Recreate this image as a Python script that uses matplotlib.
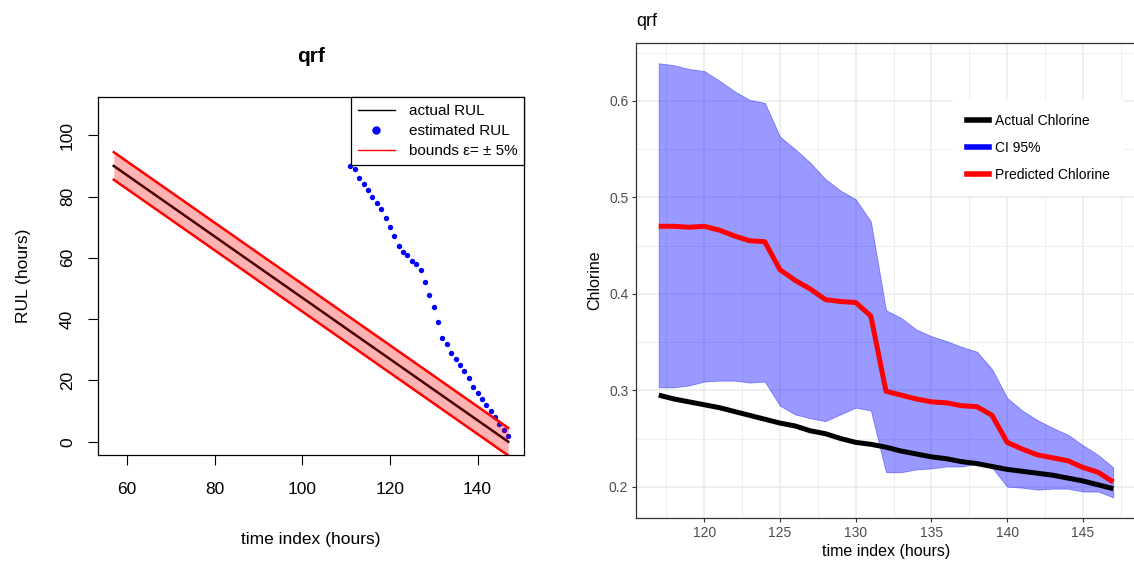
import numpy as np
import matplotlib
matplotlib.use('Agg')
import matplotlib.pyplot as plt
from matplotlib.lines import Line2D

plt.rcParams['font.family'] = ['Liberation Sans', 'DejaVu Sans']

# left panel: remaining useful life
actual_t = [57, 147]
actual_rul = [90, 0]
bound_hi = [94.5, 4.5]
bound_lo = [85.5, -4.5]

est_t = np.arange(111, 148)
est_rul = [90.0, 88.9, 86.1, 84.1, 82.2, 79.8, 77.9, 75.9, 73.0, 70.1,
           67.2, 63.8, 62.0, 60.9, 59.0, 57.9, 56.2, 52.2, 47.9, 44.0,
           39.0, 33.9, 32.0, 29.0, 27.1, 25.1, 23.1, 20.8, 17.8, 15.9,
           13.9, 12.0, 10.1, 8.2, 5.7, 3.8, 1.9]

# right panel: chlorine forecast
hours = np.arange(117, 148)
actual_cl = [0.295, 0.291, 0.288, 0.285, 0.282, 0.278, 0.274, 0.270, 0.266, 0.263,
             0.258, 0.255, 0.250, 0.246, 0.244, 0.241, 0.237, 0.234, 0.231, 0.229,
             0.226, 0.224, 0.221, 0.218, 0.216, 0.214, 0.212, 0.209, 0.206, 0.202, 0.198]
pred_cl = [0.470, 0.470, 0.469, 0.470, 0.466, 0.460, 0.455, 0.454, 0.425, 0.414,
           0.405, 0.394, 0.392, 0.391, 0.377, 0.299, 0.295, 0.291, 0.288, 0.287,
           0.284, 0.283, 0.274, 0.246, 0.239, 0.233, 0.230, 0.227, 0.220, 0.215, 0.205]
ci_high = [0.639, 0.637, 0.633, 0.631, 0.621, 0.610, 0.601, 0.598, 0.563, 0.550,
           0.536, 0.519, 0.507, 0.498, 0.475, 0.383, 0.375, 0.363, 0.356, 0.351,
           0.345, 0.340, 0.322, 0.292, 0.279, 0.269, 0.261, 0.254, 0.243, 0.233, 0.220]
ci_low = [0.303, 0.303, 0.305, 0.309, 0.310, 0.310, 0.308, 0.309, 0.284, 0.275,
          0.271, 0.268, 0.275, 0.282, 0.279, 0.215, 0.215, 0.218, 0.219, 0.221,
          0.221, 0.224, 0.220, 0.200, 0.199, 0.197, 0.198, 0.198, 0.195, 0.195, 0.189]

W, H = 1134, 563
fig = plt.figure(figsize=(W / 100, H / 100), dpi=100)


def px_axes(left, top, right, bottom):
    return fig.add_axes([left / W, 1 - bottom / H, (right - left) / W, (bottom - top) / H])


# ---- left: base-graphics style plot ----
ax1 = px_axes(98, 97, 524, 455)
ax1.scatter(est_t, est_rul, s=15, color='blue', zorder=2, linewidths=0)
ax1.plot(actual_t, actual_rul, color='black', lw=1.8, zorder=2)
ax1.fill_between(actual_t, bound_lo, bound_hi, color='red', alpha=0.3, lw=0, zorder=3)
ax1.plot(actual_t, bound_hi, color='red', lw=1.8, zorder=4)
ax1.plot(actual_t, bound_lo, color='red', lw=1.8, zorder=4)

ax1.set_xlim(53.4, 150.6)
ax1.set_ylim(-4.33, 112.5)
ax1.set_xticks([60, 80, 100, 120, 140])
ax1.set_yticks([0, 20, 40, 60, 80, 100])
ax1.tick_params(axis='x', length=7.5, width=0.8, labelsize=12.5, pad=12)
ax1.tick_params(axis='y', length=7.5, width=0.8, labelsize=12.5, pad=9)
for lab in ax1.get_yticklabels():
    lab.set_rotation(90)
    lab.set_va('center')
for sp in ax1.spines.values():
    sp.set_linewidth(0.9)
ax1.set_xlabel('time index (hours)', fontsize=12.5, labelpad=25)
ax1.set_ylabel('RUL (hours)', fontsize=12.5, labelpad=21)
ax1.set_title('qrf', fontsize=15, fontweight='bold', pad=25)

handles1 = [Line2D([], [], color='black', lw=1),
            Line2D([], [], color='blue', lw=0, marker='o', markersize=5),
            Line2D([], [], color='red', lw=1)]
leg1 = ax1.legend(handles1, ['actual RUL', 'estimated RUL', 'bounds \u03b5= \u00b1 5%'],
                  loc='upper right', borderaxespad=0, fancybox=False,
                  edgecolor='black', framealpha=1, fontsize=11,
                  handlelength=2.4, handletextpad=0.9, labelspacing=0.4,
                  borderpad=0.45)
leg1.get_frame().set_linewidth(0.9)
leg1.set_zorder(10)

# ---- right: ggplot style plot ----
ax2 = px_axes(636, 43, 1136, 518)
ax2.fill_between(hours, ci_low, ci_high, facecolor='blue', alpha=0.4,
                 edgecolor='blue', lw=0.6, zorder=2)
ax2.plot(hours, actual_cl, color='black', lw=3.6, zorder=3, solid_capstyle='butt')
ax2.plot(hours, pred_cl, color='red', lw=3.6, zorder=4, solid_capstyle='butt')

ax2.set_xlim(115.5, 148.5)
ax2.set_ylim(0.1676, 0.660)
ax2.set_xticks([120, 125, 130, 135, 140, 145])
ax2.set_xticks(np.arange(117.5, 149, 5), minor=True)
ax2.set_yticks([0.2, 0.3, 0.4, 0.5, 0.6])
ax2.set_yticks([0.25, 0.35, 0.45, 0.55, 0.65], minor=True)
ax2.set_yticklabels(['0.2', '0.3', '0.4', '0.5', '0.6'])
ax2.grid(which='major', color='#EBEBEB', lw=1.1, zorder=0)
ax2.grid(which='minor', color='#EBEBEB', lw=0.6, zorder=0)
ax2.set_axisbelow(True)
ax2.tick_params(axis='both', which='major', length=3, width=0.8, color='#333333',
                labelsize=10, labelcolor='#4D4D4D', pad=2.5)
ax2.tick_params(axis='both', which='minor', length=0)
for sp in ax2.spines.values():
    sp.set_color('#333333')
    sp.set_linewidth(0.9)
ax2.set_xlabel('time index (hours)', fontsize=11.5, labelpad=3)
ax2.set_ylabel('Chlorine', fontsize=11.5, labelpad=5)
ax2.set_title('qrf', fontsize=13, loc='left', pad=12)

handles2 = [Line2D([], [], color='black', lw=4),
            Line2D([], [], color='blue', lw=4),
            Line2D([], [], color='red', lw=4)]
leg2 = ax2.legend(handles2, ['Actual Chlorine', 'CI 95%', 'Predicted Chlorine'],
                  loc='upper left', bbox_to_anchor=(953 / W, 1 - 100 / H),
                  bbox_transform=fig.transFigure, borderaxespad=0,
                  frameon=True, fancybox=False, framealpha=1,
                  facecolor='white', edgecolor='none', fontsize=10,
                  handlelength=1.6, handletextpad=0.45, labelspacing=0.95,
                  borderpad=1.0)

fig.savefig('out.png', dpi=100)
